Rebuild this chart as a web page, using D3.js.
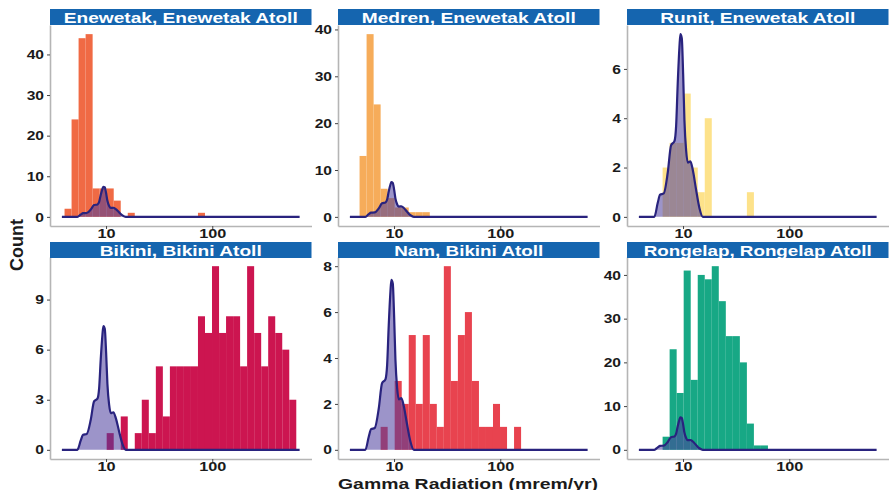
<!DOCTYPE html>
<html><head><meta charset="utf-8">
<script src="https://cdn.jsdelivr.net/npm/d3@7"></script>
<style>
body{margin:0;background:#fff}
text{font-family:"Liberation Sans",Arial,Helvetica,sans-serif;font-weight:bold}
</style>
</head><body>
<svg id="chart" width="889" height="490"></svg>
<script>
// ---------------- DATA ----------------
const panelTitles = ["Enewetak, Enewetak Atoll","Medren, Enewetak Atoll","Runit, Enewetak Atoll",
                     "Bikini, Bikini Atoll","Nam, Bikini Atoll","Rongelap, Rongelap Atoll"];
// histogram bin edges (mrem/yr), log-spaced
const binEdges = [3.494,4.068,4.737,5.515,6.422,7.477,8.708,10.14,11.81,13.75,16.01,18.64,21.70,25.27,
                  29.43,34.26,39.90,46.45,54.09,62.99,73.34,85.40,99.43,115.8,134.8,157.0,182.8,212.8,
                  247.8,288.6,336.0,391.3,455.6,530.5,617.7];
const countsEnewetak = [0,2,24,44,45,7,7,7,4,0,1,0,0,0,0,0,0,0,0,0,1,0,0,0,0,0,0,0,0,0,0,0,0,0];
const countsMedren   = [0,0,13,39,24,6,4,2,2,1,1,1,0,0,0,0,0,0,0,0,0,0,0,0,0,0,0,0,0,0,0,0,0,0];
const countsRunit    = [0,0,0,0,2,3,3,5,2,1,4,0,0,0,0,0,1,0,0,0,0,0,0,0,0,0,0,0,0,0,0,0,0,0];
const countsBikini   = [0,0,0,0,0,0,0,1,0,2,0,1,3,1,5,2,5,5,5,5,8,7,11,7,8,8,5,11,7,5,8,7,6,3];
const countsNam      = [0,0,0,0,0,1,0,3,2,5,2,5,2,1,8,3,5,6,3,1,1,2,1,0,1,0,0,0,0,0,0,0,0,0];
const countsRongelap = [0,0,0,0,3,23,13,41,16,40,39,42,34,26,26,20,6,1,1,0,0,0,0,0,0,0,0,0,0,0,0,0,0,0];
// reference density curve (same in every panel)
const densityX = [3.84,5.37,5.78,6.08,6.58,7.18,7.71,8.30,8.61,8.91,9.25,9.44,9.73,10.02,10.30,10.69,
                  11.09,11.72,12.36,13.27,14.26,15.35,664];
const densityY = [0,0,0.57,0.9,0.95,1.8,2.9,3.07,3.7,5.4,6.9,7.41,7.25,5.8,3.95,2.7,2.2,2.25,1.9,1.1,0.36,0,0];
const xTicks = [10,100];
const yTicksEnewetak = [0,10,20,30,40];
const yTicksMedren   = [0,10,20,30,40];
const yTicksRunit    = [0,2,4,6];
const yTicksBikini   = [0,3,6,9];
const yTicksNam      = [0,2,4,6,8];
const yTicksRongelap = [0,10,20,30,40];
const barColors = ["#F06A44","#F6AC5A","#FDE28A","#CC1550","#E8434F","#17A885"];
const xDataRange = [3.84,664];
const xTitle = "Gamma Radiation (mrem/yr)";
const yTitle = "Count";

// ---------------- LAYOUT ----------------
const svg = d3.select("#chart");
const colLeft = [50,338,627], panelW = 261.5;
const stripTop = [9,242], stripH = 16;
const plotTop = [25,257], plotBottom = [226,459];
function stretch(sel, factor){
  sel.each(function(){
    const w = this.getComputedTextLength();
    d3.select(this).attr("textLength", w*factor).attr("lengthAdjust","spacingAndGlyphs");
  });
}

const allCounts = [countsEnewetak,countsMedren,countsRunit,countsBikini,countsNam,countsRongelap];
const allYTicks = [yTicksEnewetak,yTicksMedren,yTicksRunit,yTicksBikini,yTicksNam,yTicksRongelap];
const titleWidths = [234,214,195,162,149,228];

const lx0 = Math.log10(xDataRange[0]), lx1 = Math.log10(xDataRange[1]);
const ex = (lx1-lx0)*0.05;
const xDomain = [Math.pow(10,lx0-ex), Math.pow(10,lx1+ex)];
const density = densityX.map((d,i)=>({x:d,y:densityY[i]}));

panelTitles.forEach((title,p)=>{
  const r = Math.floor(p/3), c = p%3;
  const left = colLeft[c], top = plotTop[r], bottom = plotBottom[r];
  const x = d3.scaleLog().domain(xDomain).range([left,left+panelW]);
  const counts = allCounts[p];
  const m = Math.max(d3.max(counts), d3.max(densityY));
  const y = d3.scaleLinear().domain([-0.05*m,1.05*m]).range([bottom,top]);
  const g = svg.append("g");

  // bars
  const bins = counts.map((v,i)=>({x0:binEdges[i],x1:binEdges[i+1],n:v})).filter(d=>d.n>0);
  g.selectAll("rect.bar").data(bins).join("rect").attr("class","bar")
    .attr("x",d=>x(d.x0)).attr("width",d=>x(d.x1)-x(d.x0))
    .attr("y",d=>y(d.n)).attr("height",d=>y(0)-y(d.n))
    .attr("fill",barColors[p]);

  // density
  const area = d3.area().x(d=>x(d.x)).y0(y(0)).y1(d=>y(d.y)).curve(d3.curveMonotoneX);
  const line = d3.line().x(d=>x(d.x)).y(d=>y(d.y)).curve(d3.curveMonotoneX);
  g.append("path").attr("d",area(density)).attr("fill","#4A3C9C").attr("fill-opacity",0.55);
  g.append("path").attr("d",line(density)).attr("fill","none").attr("stroke","#29237E").attr("stroke-width",2.2);

  // axes
  const ya = g.append("g").attr("transform",`translate(${left},0)`)
    .call(d3.axisLeft(y).tickValues(allYTicks[p]).tickSize(3).tickSizeOuter(0).tickPadding(3));
  const xa = g.append("g").attr("transform",`translate(0,${bottom})`)
    .call(d3.axisBottom(x).tickValues(xTicks).tickFormat(d3.format("d")).tickSize(3).tickSizeOuter(0).tickPadding(0));
  [[ya,1.2],[xa,1.25]].forEach(([a,f])=>{
    a.select(".domain").attr("stroke","#b5b5b5").attr("stroke-width",1.6);
    a.selectAll(".tick line").attr("stroke","#444").attr("stroke-width",1);
    a.selectAll(".tick text").attr("fill","#1a1a1a").style("font-size","13px").style("font-family","Liberation Sans, Arial, sans-serif").style("font-weight","bold");
    stretch(a.selectAll(".tick text"), f);
  });

  // strip
  g.append("rect").attr("x",left).attr("y",stripTop[r]).attr("width",panelW).attr("height",stripH).attr("fill","#1565AF");
  g.append("text").attr("x",left+panelW/2).attr("y",stripTop[r]+14.3).attr("text-anchor","middle")
    .attr("fill","#fff").style("font-size","14px").text(title)
    .attr("textLength",titleWidths[p]).attr("lengthAdjust","spacingAndGlyphs");
});

// axis titles
svg.append("text").attr("x",468).attr("y",488.5).attr("text-anchor","middle").attr("fill","#1a1a1a")
  .style("font-size","15px").text(xTitle).attr("textLength",260).attr("lengthAdjust","spacingAndGlyphs");
svg.append("text").attr("transform","translate(23,245) rotate(-90)").attr("text-anchor","middle").attr("fill","#1a1a1a")
  .style("font-size","18px").text(yTitle);
</script>
</body></html>
